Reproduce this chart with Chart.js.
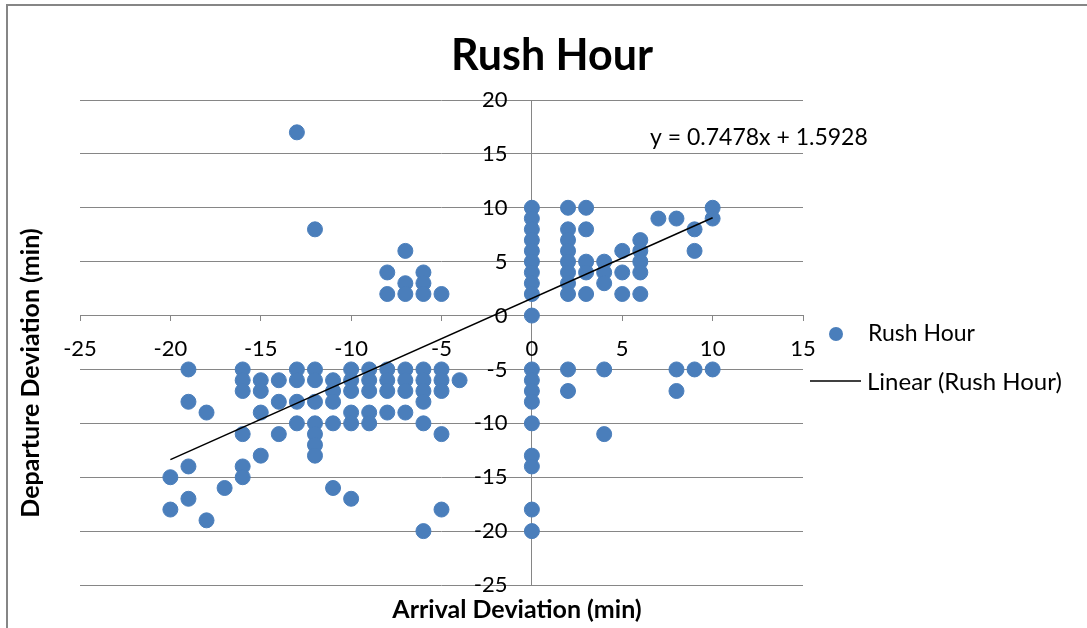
<!DOCTYPE html>
<html lang="en">
<head>
  <meta charset="UTF-8" />
  <title>Rush Hour</title>
  <script src="https://cdn.jsdelivr.net/npm/chart.js"></script>
  <style>
    body { margin: 0; background: #fff; }
    #wrap { width: 1087px; height: 628px; position: relative; }
  </style>
</head>
<body>
  <div id="wrap">
    <canvas id="rushChart"></canvas>
  </div>

  <script>
    // arrival / departure deviation in minutes, one pair per trip
    const arrival = [
      -20, -20,
      -19, -19, -19, -19,
      -18, -18,
      -17,
      -16, -16, -16, -16, -16, -16,
      -15, -15, -15, -15,
      -14, -14, -14,
      -13, -13, -13, -13, -13,
      -12, -12, -12, -12, -12, -12, -12, -12,
      -11, -11, -11, -11, -11,
      -10, -10, -10, -10, -10, -10,
      -9, -9, -9, -9, -9,
      -8, -8, -8, -8, -8, -8,
      -7, -7, -7, -7, -7, -7, -7,
      -6, -6, -6, -6, -6, -6, -6, -6, -6,
      -5, -5, -5, -5, -5, -5,
      -4,
      0, 0, 0, 0, 0, 0, 0, 0, 0, 0, 0, 0, 0, 0, 0, 0, 0, 0, 0,
      2, 2, 2, 2, 2, 2, 2, 2, 2, 2,
      3, 3, 3, 3, 3,
      4, 4, 4, 4, 4,
      5, 5, 5,
      6, 6, 6, 6, 6,
      7,
      8, 8, 8,
      9, 9, 9,
      10, 10, 10
    ];
    const departure = [
      -15, -18,
      -5, -8, -14, -17,
      -9, -19,
      -16,
      -5, -6, -7, -11, -14, -15,
      -6, -7, -9, -13,
      -6, -8, -11,
      -5, -6, -8, -10, 17,
      -5, -6, -8, -10, -11, -12, -13, 8,
      -6, -7, -8, -10, -16,
      -5, -6, -7, -9, -10, -17,
      -5, -6, -7, -9, -10,
      -5, -6, -7, -9, 4, 2,
      -5, -6, -7, -9, 6, 3, 2,
      -5, -6, -7, -8, -10, -20, 4, 3, 2,
      -5, -6, -7, -11, -18, 2,
      -6,
      10, 9, 8, 7, 6, 5, 4, 3, 2, 0, -5, -6, -7, -8, -10, -13, -14, -18, -20,
      10, 8, 7, 6, 5, 4, 3, 2, -5, -7,
      10, 8, 5, 4, 2,
      5, 4, 3, -5, -11,
      6, 4, 2,
      7, 6, 5, 4, 2,
      9,
      9, -5, -7,
      8, 6, -5,
      10, 9, -5
    ];

    // linear trend from the fitted equation
    const slope = 0.7478;
    const intercept = 1.5928;
    const trendRange = [-20, 10];

    const xTicks = { min: -25, max: 15, step: 5 };
    const yTicks = { min: -25, max: 20, step: 5 };

    const seriesName = 'Rush Hour';
    const trendName = 'Linear (Rush Hour)';

    const points = arrival.map((a, i) => ({ x: a, y: departure[i] }));
    const trend = trendRange.map(x => ({ x: x, y: slope * x + intercept }));

    const FONT = 'Lato, "Open Sans", sans-serif';
    const GRID = '#868686';
    const BLUE = '#4a7ebb';

    // frame, titles, legend and equation label
    const decorations = {
      id: 'decorations',
      afterDraw(chart) {
        const ctx = chart.ctx;
        ctx.save();

        ctx.strokeStyle = GRID;
        ctx.lineWidth = 2;
        ctx.beginPath();
        ctx.moveTo(7, 628);
        ctx.lineTo(7, 5);
        ctx.lineTo(1087, 5);
        ctx.stroke();

        ctx.fillStyle = '#000';
        ctx.textBaseline = 'alphabetic';
        ctx.textAlign = 'center';
        ctx.font = 'bold 43px ' + FONT;
        ctx.fillText(seriesName, 552, 70);

        ctx.font = 'bold 25px ' + FONT;
        ctx.fillText('Arrival Deviation (min)', 517, 618);

        ctx.save();
        ctx.translate(39, 373);
        ctx.rotate(-Math.PI / 2);
        ctx.fillText('Departure Deviation (min)', 0, 0);
        ctx.restore();

        ctx.textAlign = 'left';
        ctx.textBaseline = 'middle';
        ctx.font = '23px ' + FONT;
        ctx.fillText('y = ' + slope + 'x + ' + intercept, 650, 138);

        ctx.fillStyle = BLUE;
        ctx.beginPath();
        ctx.arc(836, 334, 7, 0, Math.PI * 2);
        ctx.fill();

        ctx.strokeStyle = '#000';
        ctx.lineWidth = 1.5;
        ctx.beginPath();
        ctx.moveTo(810, 381);
        ctx.lineTo(861, 381);
        ctx.stroke();

        ctx.fillStyle = '#000';
        ctx.fillText(seriesName, 868, 334);
        ctx.font = '24px ' + FONT;
        ctx.fillText(trendName, 867, 382);

        ctx.restore();
      }
    };

    new Chart(document.getElementById('rushChart'), {
      type: 'scatter',
      data: {
        datasets: [
          {
            type: 'line',
            label: trendName,
            data: trend,
            borderColor: '#000',
            borderWidth: 1.5,
            pointRadius: 0,
            fill: false,
            order: 0
          },
          {
            label: seriesName,
            data: points,
            backgroundColor: BLUE,
            borderColor: BLUE,
            pointRadius: 7.5,
            pointHoverRadius: 7.5,
            order: 1
          }
        ]
      },
      options: {
        responsive: true,
        maintainAspectRatio: false,
        animation: false,
        layout: { padding: { left: 80, right: 284, top: 100, bottom: 43 } },
        plugins: {
          legend: { display: false },
          title: { display: false },
          tooltip: { enabled: false }
        },
        scales: {
          x: {
            type: 'linear',
            position: { y: 0 },
            min: xTicks.min,
            max: xTicks.max,
            ticks: { stepSize: xTicks.step, color: '#000', font: { family: FONT, size: 22 }, padding: 15, maxRotation: 0 },
            // only the zero line is drawn across the plot; the rest are tick marks
            grid: {
              display: true,
              drawOnChartArea: true,
              color: c => (c.tick && c.tick.value === 0 ? GRID : 'rgba(0,0,0,0)'),
              tickColor: GRID,
              tickLength: 5
            },
            border: { display: true, color: GRID, width: 1 }
          },
          y: {
            type: 'linear',
            // labels sit just left of the zero line
            position: { x: -1.35 },
            min: yTicks.min,
            max: yTicks.max,
            ticks: { stepSize: yTicks.step, color: '#000', font: { family: FONT, size: 22 } },
            grid: { color: GRID, drawTicks: false },
            border: { display: false }
          }
        }
      },
      plugins: [decorations]
    });
  </script>
</body>
</html>
